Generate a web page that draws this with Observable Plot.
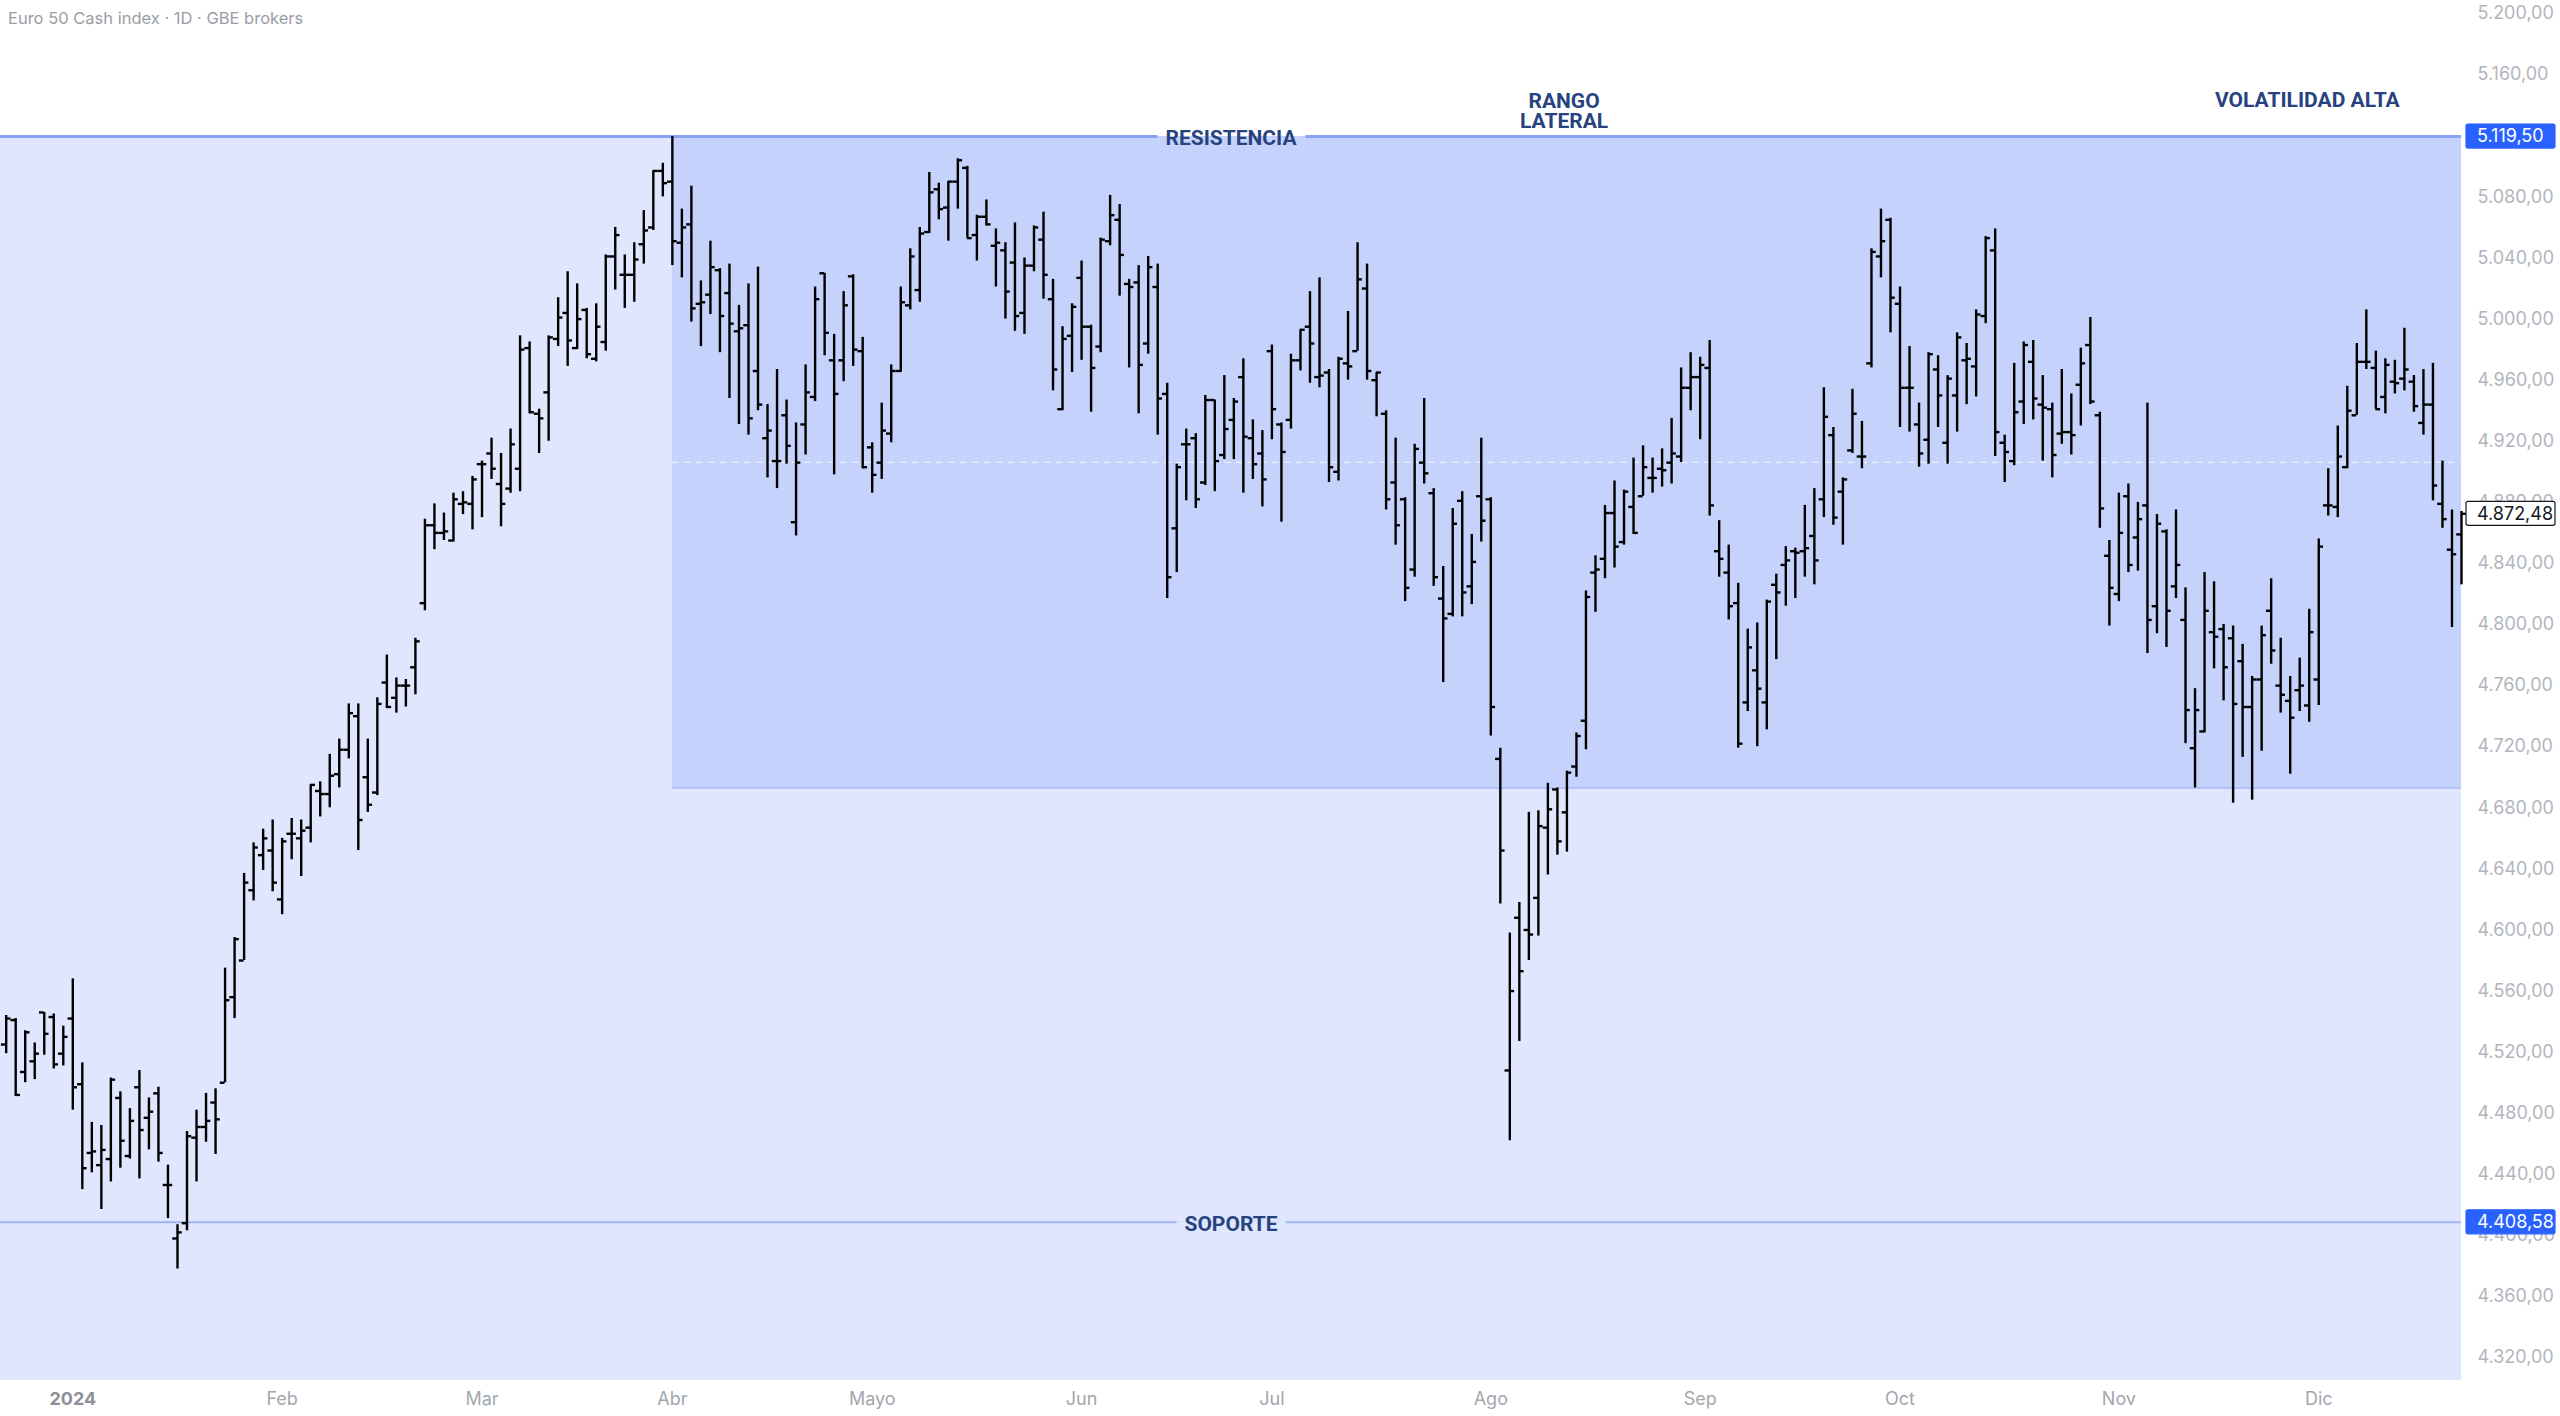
<!DOCTYPE html>
<html>
<head>
<meta charset="utf-8">
<script src="https://cdn.jsdelivr.net/npm/d3@7"></script>
<script src="https://cdn.jsdelivr.net/npm/@observablehq/plot@0.6"></script>
<style>
  html, body { margin: 0; padding: 0; background: #ffffff; }
  #wrap { position: relative; width: 2560px; height: 1416px; overflow: hidden; }
  #title { position: absolute; left: 8px; top: 8px; font: 16.5px Inter, "Noto Sans", sans-serif; color: #9a9da5; }
</style>
</head>
<body>
<div id="wrap"><div id="title">Euro 50 Cash index · 1D · GBE brokers</div></div>
<script>
// ---- data (daily OHLC bars) ----
// bar positions are trading-day indices; index 0 = first session of 2024
const firstBarIndex = -7;

const open = [
  4525, 4541, 4507, 4514, 4546, 4543, 4519,
  4542, 4499, 4454, 4446, 4450, 4490, 4452, 4497, 4477, 4493,
  4433, 4398, 4408, 4464, 4471, 4487, 4500, 4556, 4580, 4626,
  4649, 4652, 4620, 4663, 4660, 4667, 4691, 4689, 4702, 4718,
  4740, 4700, 4690, 4762, 4752, 4760, 4772, 4814, 4865, 4860,
  4855, 4879, 4879, 4905, 4912, 4892, 4889, 4902, 4981, 4938,
  4952, 4987, 5004, 4981, 5006, 4974, 4985, 5041, 5029, 5029,
  5049, 5060, 5097, 5090, 5050, 5062, 5010, 5016, 5032, 5017,
  4992, 4996, 4966, 4922, 4907, 4937, 4867, 4931, 4949, 5030,
  4973, 4973, 5028, 4979, 4916, 4906, 4925, 4966, 5009, 5019,
  5057, 5085, 5073, 5090, 5099, 5055, 5067, 5048, 5045, 5037,
  5004, 5035, 5052, 5013, 4941, 4989, 5027, 4995, 4982, 5051,
  5065, 5023, 5024, 4984, 5021, 4951, 4863, 4918, 4922, 4893,
  4947, 4911, 4934, 4962, 4922, 4912, 4979, 4931, 4934, 4973,
  4995, 4962, 4965, 4900, 4971, 4979, 5020, 4960, 4938, 4893,
  4882, 4836, 4906, 4886, 4817, 4807, 4881, 4825, 4884, 4882,
  4712, 4508, 4608, 4600, 4621, 4667, 4692, 4677, 4707, 4737,
  4834, 4843, 4873, 4854, 4877, 4884, 4896, 4902, 4906, 4910,
  4955, 4962, 4968, 4848, 4834, 4814, 4749, 4770, 4749, 4826,
  4839, 4848, 4848, 4858, 4882, 4924, 4887, 4914, 4910, 4971,
  5041, 5065, 5010, 4955, 4931, 4921, 4967, 4919, 4950, 4973,
  4969, 5002, 5045, 4919, 4907, 4946, 4972, 4944, 4941, 4925,
  4926, 4957, 4983, 4937, 4845, 4820, 4884, 4857, 4878, 4812,
  4861, 4825, 4803, 4719, 4730, 4795, 4797, 4791, 4776, 4746,
  4764, 4809, 4760, 4750, 4757, 4747, 4764, 4878, 4877, 4903,
  4937, 4972, 4968, 4949, 4959, 4961, 4959, 4932, 4944, 4879,
  4849, 4859
];
const high = [
  4544, 4542, 4534, 4526, 4546, 4545, 4537,
  4568, 4513, 4474, 4472, 4503, 4494, 4483, 4508, 4490, 4497,
  4446, 4407, 4468, 4482, 4493, 4496, 4575, 4595, 4637, 4657,
  4666, 4672, 4660, 4673, 4672, 4695, 4697, 4715, 4725, 4748,
  4748, 4725, 4752, 4780, 4765, 4764, 4791, 4869, 4879, 4873,
  4886, 4887, 4897, 4907, 4922, 4912, 4928, 4989, 4985, 4941,
  4989, 5014, 5031, 5023, 5007, 5010, 5042, 5060, 5042, 5050,
  5071, 5097, 5102, 5119.5, 5072, 5087, 5025, 5051, 5033, 5036,
  5009, 5023, 5034, 4944, 4967, 4947, 4932, 4970, 5021, 5030,
  4990, 5018, 5029, 4988, 4919, 4945, 4970, 5021, 5046, 5060,
  5096, 5089, 5090, 5105, 5100, 5068, 5078, 5059, 5050, 5063,
  5040, 5061, 5070, 5026, 4995, 5010, 5038, 4996, 5053, 5081,
  5075, 5026, 5035, 5041, 5036, 4958, 4905, 4928, 4925, 4950,
  4947, 4963, 4948, 4974, 4934, 4927, 4983, 4932, 4977, 4993,
  5018, 5027, 4967, 4975, 5005, 5050, 5036, 4965, 4940, 4922,
  4883, 4918, 4948, 4889, 4838, 4876, 4887, 4859, 4922, 4883,
  4719, 4598, 4618, 4677, 4678, 4696, 4693, 4704, 4729, 4822,
  4845, 4878, 4894, 4888, 4909, 4917, 4909, 4915, 4935, 4968,
  4978, 4975, 4986, 4868, 4852, 4827, 4797, 4801, 4816, 4833,
  4851, 4850, 4878, 4889, 4955, 4929, 4896, 4954, 4933, 5046,
  5072, 5066, 5021, 4982, 4945, 4978, 4976, 4963, 4991, 4984,
  5006, 5054, 5059, 4924, 4971, 4985, 4986, 4963, 4945, 4967,
  4951, 4981, 5001, 4939, 4855, 4886, 4892, 4880, 4945, 4872,
  4862, 4875, 4824, 4758, 4834, 4828, 4800, 4799, 4787, 4766,
  4799, 4830, 4791, 4766, 4778, 4810, 4856, 4902, 4930, 4956,
  4984, 5006, 4979, 4974, 4973, 4994, 4963, 4967, 4971, 4907,
  4875, 4874
];
const low = [
  4519, 4491, 4500, 4502, 4518, 4509, 4511,
  4482, 4430, 4441, 4417, 4435, 4444, 4450, 4437, 4456, 4448,
  4411, 4378, 4403, 4435, 4461, 4453, 4500, 4542, 4580, 4619,
  4639, 4625, 4610, 4646, 4635, 4657, 4674, 4680, 4693, 4712,
  4652, 4677, 4688, 4745, 4742, 4746, 4754, 4809, 4849, 4855,
  4854, 4872, 4862, 4870, 4895, 4864, 4886, 4887, 4938, 4912,
  4920, 4982, 4969, 4980, 4974, 4972, 4979, 5019, 5007, 5011,
  5036, 5058, 5080, 5035, 5027, 4998, 4982, 5003, 4978, 4948,
  4931, 4924, 4940, 4896, 4889, 4905, 4858, 4911, 4946, 4976,
  4898, 4959, 4969, 4902, 4886, 4895, 4919, 4965, 5006, 5011,
  5056, 5065, 5051, 5072, 5053, 5038, 5061, 5021, 5000, 4992,
  4990, 5031, 5013, 4953, 4940, 4965, 4973, 4939, 4978, 5048,
  5015, 4968, 4938, 4977, 4924, 4817, 4834, 4881, 4876, 4891,
  4887, 4908, 4908, 4886, 4895, 4877, 4921, 4867, 4928, 4966,
  4958, 4955, 4893, 4894, 4960, 4979, 4960, 4936, 4875, 4852,
  4815, 4831, 4892, 4825, 4762, 4805, 4805, 4813, 4854, 4727,
  4617, 4462, 4527, 4580, 4596, 4636, 4649, 4651, 4700, 4718,
  4808, 4830, 4837, 4852, 4859, 4884, 4886, 4890, 4892, 4906,
  4940, 4921, 4871, 4831, 4803, 4719, 4743, 4720, 4731, 4777,
  4812, 4817, 4831, 4826, 4870, 4865, 4852, 4912, 4902, 4968,
  5027, 4991, 4929, 4926, 4903, 4905, 4929, 4905, 4926, 4944,
  4949, 4997, 4910, 4893, 4904, 4931, 4934, 4907, 4896, 4918,
  4911, 4930, 4944, 4863, 4799, 4815, 4834, 4835, 4781, 4794,
  4785, 4817, 4722, 4693, 4729, 4771, 4750, 4683, 4713, 4685,
  4717, 4774, 4742, 4702, 4743, 4736, 4747, 4871, 4870, 4902,
  4937, 4967, 4941, 4938, 4951, 4953, 4939, 4924, 4881, 4863,
  4798, 4826
];
const close = [
  4542, 4492, 4533, 4519, 4532, 4512, 4530,
  4497, 4444, 4455, 4456, 4502, 4462, 4475, 4469, 4481, 4454,
  4433, 4402, 4465, 4471, 4475, 4476, 4554, 4594, 4631, 4654,
  4660, 4631, 4658, 4663, 4665, 4695, 4689, 4701, 4718, 4742,
  4672, 4682, 4748, 4746, 4760, 4760, 4789, 4865, 4860, 4861,
  4882, 4880, 4895, 4905, 4902, 4879, 4918, 4980, 4939, 4935,
  4988, 5001, 4986, 5000, 4977, 4995, 5041, 5055, 5029, 5039,
  5058, 5097, 5089, 5051, 5060, 5007, 5011, 5034, 5002, 4997,
  4994, 4935, 4944, 4927, 4907, 4917, 4906, 4952, 5013, 4991,
  4951, 5009, 4980, 4903, 4898, 4927, 4966, 5011, 5041, 5056,
  5083, 5072, 5090, 5104, 5053, 5067, 5062, 5050, 5018, 5002,
  5035, 5060, 5029, 4967, 4987, 5008, 4995, 4968, 5052, 5068,
  5042, 5021, 4970, 5034, 4948, 4831, 4903, 4918, 4882, 4947,
  4907, 4928, 4946, 4923, 4905, 4895, 4941, 4913, 4973, 4993,
  4984, 4963, 4903, 4974, 4969, 5026, 4966, 4965, 4882, 4865,
  4824, 4915, 4899, 4831, 4804, 4866, 4821, 4841, 4868, 4746,
  4652, 4560, 4573, 4597, 4668, 4679, 4658, 4703, 4727, 4818,
  4836, 4873, 4851, 4887, 4860, 4903, 4896, 4901, 4912, 4955,
  4962, 4970, 4878, 4843, 4812, 4722, 4785, 4758, 4815, 4821,
  4842, 4847, 4850, 4842, 4936, 4870, 4895, 4938, 4910, 5044,
  5051, 5014, 4955, 4955, 4912, 4977, 4950, 4961, 4988, 4974,
  5003, 5053, 4926, 4913, 4939, 4983, 4948, 4942, 4911, 4926,
  4924, 4971, 4946, 4876, 4824, 4860, 4839, 4869, 4803, 4866,
  4809, 4839, 4744, 4744, 4809, 4792, 4772, 4748, 4746, 4764,
  4793, 4783, 4754, 4739, 4760, 4795, 4851, 4878, 4910, 4940,
  4972, 4972, 4941, 4970, 4958, 4967, 4943, 4944, 4891, 4869,
  4846, 4872.48
];

// x-axis: first session of each month (trading-day index) and its label
const monthStart  = [0, 22, 43, 63, 84, 106, 126, 149, 171, 192, 215, 236];
const monthLabels = ["2024", "Feb", "Mar", "Abr", "Mayo", "Jun", "Jul", "Ago", "Sep", "Oct", "Nov", "Dic"];

// y-axis tick values (5.120,00 is hidden behind the resistance tag in the reference)
const yTicks = [4320, 4360, 4400, 4440, 4480, 4520, 4560, 4600, 4640, 4680, 4720, 4760,
                4800, 4840, 4880, 4920, 4960, 5000, 5040, 5080, 5160, 5200];

// drawn levels
const resistance = 5119.50;
const support = 4408.58;
const rangeLow = 4693;
const rangeStart = 63;          // first session of April
const lastPrice = close[close.length - 1];

const levels = [
  {label: "RESISTENCIA", value: resistance},
  {label: "SOPORTE", value: support}
];
const notes = [
  {label: "RANGO\nLATERAL", bar: 156.7, price: 5136},
  {label: "VOLATILIDAD ALTA", bar: 234.8, price: 5143}
];

// ---- build ----
const bars = open.map((o, k) => ({i: k + firstBarIndex, open: o, high: high[k], low: low[k], close: close[k]}));
const loc = d3.formatLocale({decimal: ",", thousands: ".", grouping: [3], currency: ["", ""]});
const fmt = loc.format(",.2f");

const W = 2560, H = 1416;
const xDomain = [-7.597, 251];
const yDomain = [4305, 5208.6];
const FONT = "Inter, Roboto, 'Noto Sans', sans-serif";
const LABEL_FONT = "Roboto, Inter, sans-serif";
const ink = "#000000";
const noteColor = "#27437f";

const chart = Plot.plot({
  width: W,
  height: H,
  marginLeft: 0,
  marginRight: 99,
  marginTop: 0,
  marginBottom: 36,
  x: {type: "linear", domain: xDomain, axis: null},
  y: {type: "linear", domain: yDomain, axis: null},
  style: {background: "#ffffff", fontFamily: FONT, overflow: "visible"},
  marks: [
    // light background zone below the resistance
    Plot.rect([0], {x1: xDomain[0], x2: xDomain[1], y1: yDomain[0], y2: resistance, fill: "#dfe6fd"}),
    // lateral range box
    Plot.rect([0], {x1: rangeStart, x2: xDomain[1], y1: rangeLow, y2: resistance, fill: "#c5d3fc"}),
    Plot.ruleY([rangeLow], {x1: rangeStart, x2: xDomain[1], stroke: "#a6b9f6", strokeWidth: 1.5}),
    Plot.ruleY([(resistance + rangeLow) / 2], {x1: rangeStart, x2: xDomain[1], stroke: "#ffffff", strokeOpacity: 0.85, strokeWidth: 1.2, strokeDasharray: "7,5"}),
    // levels
    Plot.ruleY([resistance], {stroke: "#86a2f3", strokeWidth: 3}),
    Plot.ruleY([support], {stroke: "#9fb4f1", strokeWidth: 2}),
    // OHLC bars
    Plot.ruleX(bars, {x: "i", y1: "low", y2: "high", stroke: ink, strokeWidth: 2.4}),
    Plot.ruleY(bars, {y: "open", x1: d => d.i - 0.5, x2: "i", stroke: ink, strokeWidth: 2.4}),
    Plot.ruleY(bars, {y: "close", x1: "i", x2: d => d.i + 0.5, stroke: ink, strokeWidth: 2.4}),
    // level labels
    Plot.text(levels, {y: "value", text: "label", frameAnchor: "middle", dy: 2, fill: noteColor, fontWeight: 700, fontSize: 21, fontFamily: LABEL_FONT}),
    // notes
    Plot.text(notes, {x: "bar", y: "price", text: "label", fill: noteColor, fontWeight: 700, fontSize: 21, lineHeight: 0.98, fontFamily: LABEL_FONT}),
    // y axis labels (right)
    Plot.text(yTicks, {y: d => d, text: d => fmt(d), frameAnchor: "right", textAnchor: "start", dx: 16, fill: "#b2b5be", fontSize: 18, fontFamily: FONT}),
    // x axis labels
    Plot.text(monthStart.slice(0, 1), {x: d => d, text: () => monthLabels[0], frameAnchor: "bottom", dy: 24, fill: "#8d9098", fontWeight: 700, fontSize: 18, fontFamily: FONT}),
    Plot.text(monthStart.slice(1), {x: d => d, text: (d, i) => monthLabels[i + 1], frameAnchor: "bottom", dy: 24, fill: "#a3a6ad", fontSize: 18, fontFamily: FONT})
  ]
});

document.getElementById("wrap").appendChild(chart);

// ---- post-processing with Plot's own scales ----
const sx = chart.scale("x");
const sy = chart.scale("y");
const NS = "http://www.w3.org/2000/svg";
const svgSel = d3.select(chart);
const svgBox = chart.getBoundingClientRect();

// break the level lines behind their labels
const levelFill = {
  "RESISTENCIA": {above: "#ffffff", below: "#c5d3fc"},
  "SOPORTE": {above: "#dfe6fd", below: "#dfe6fd"}
};
svgSel.selectAll("text").filter(function () { return levelFill[this.textContent] !== undefined; }).each(function () {
  const lv = levels.find(l => l.label === this.textContent);
  const bb = this.getBoundingClientRect();
  const x0 = bb.left - svgBox.left - 8;
  const w = bb.width + 16;
  const py = sy.apply(lv.value);
  const c = levelFill[lv.label];
  const g = this.parentNode;
  const host = g.parentNode;
  const r1 = document.createElementNS(NS, "rect");
  r1.setAttribute("x", x0); r1.setAttribute("width", w);
  r1.setAttribute("y", py - 3); r1.setAttribute("height", 3);
  r1.setAttribute("fill", c.above);
  const r2 = document.createElementNS(NS, "rect");
  r2.setAttribute("x", x0); r2.setAttribute("width", w);
  r2.setAttribute("y", py); r2.setAttribute("height", 3);
  r2.setAttribute("fill", c.below);
  host.insertBefore(r1, g);
  host.insertBefore(r2, g);
});

// price tags on the right scale
const frameRight = sx.apply(xDomain[1]);
const tags = [
  {value: resistance, fill: "#2962ff", stroke: "#2962ff", color: "#ffffff"},
  {value: support, fill: "#2962ff", stroke: "#2962ff", color: "#ffffff"},
  {value: lastPrice, fill: "#ffffff", stroke: "#131722", color: "#131722"}
];
const tg = svgSel.append("g").attr("text-anchor", "start");
tags.forEach(t => {
  const y = sy.apply(t.value);
  tg.append("rect")
    .attr("x", frameRight + 5).attr("y", y - 12)
    .attr("width", 89).attr("height", 24).attr("rx", 2)
    .attr("fill", t.fill).attr("stroke", t.stroke).attr("stroke-width", 1.2);
  tg.append("text")
    .attr("x", frameRight + 16).attr("y", y)
    .attr("dy", "0.35em")
    .attr("text-anchor", "start")
    .attr("fill", t.color)
    .attr("font-size", 18)
    .attr("font-family", FONT)
    .text(fmt(t.value));
});
</script>
</body>
</html>
